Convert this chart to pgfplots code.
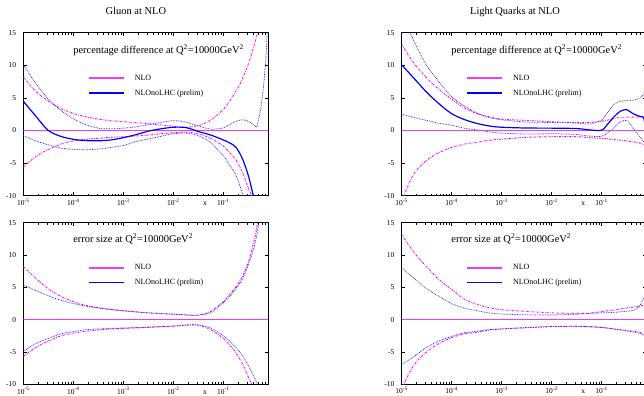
\documentclass[border=0pt]{standalone}
\usepackage{pgfplots}
\pgfplotsset{compat=1.18}
\usepackage{fontspec}
\setmainfont{Liberation Serif}
\definecolor{nlo}{RGB}{255,0,255}
\definecolor{nlothick}{RGB}{240,60,240}
\definecolor{bl}{RGB}{0,0,255}
\definecolor{bldot}{RGB}{40,40,255}
\tikzset{
 mu/.style={color=nlo, line width=0.9bp, dash pattern=on 2bp off 1.2bp on 0.6bp off 1.2bp, smooth},
 bd/.style={color=bldot, line width=0.75bp, dash pattern=on 0.75bp off 0.9bp, smooth},
}
\pgfplotsset{every axis/.append style={
  scale only axis, width=245.2bp,
  clip mode=individual,
  xmode=log, xmin=1e-5, xmax=0.8, ymin=-10, ymax=15,
  xtick={1e-5,1e-4,1e-3,1e-2,1e-1},
  xticklabels={10\textsuperscript{-5},10\textsuperscript{-4},10\textsuperscript{-3},10\textsuperscript{-2},10\textsuperscript{-1}},
  minor xtick={2e-5,3e-5,4e-5,5e-5,6e-5,7e-5,8e-5,9e-5,2e-4,3e-4,4e-4,5e-4,6e-4,7e-4,8e-4,9e-4,2e-3,3e-3,4e-3,5e-3,6e-3,7e-3,8e-3,9e-3,2e-2,3e-2,4e-2,5e-2,6e-2,7e-2,8e-2,9e-2,0.2,0.3,0.4,0.5,0.6,0.7},
  ytick={-10,-5,0,5,10,15},
  yticklabels={-10,-5,0,5,10,15},
  tick align=inside,
  major tick length=3.5bp, minor tick length=2bp,
  axis line style={line width=0.8bp},
  tick style={black,line width=0.6bp},
  tick label style={font=\fontsize{7.5}{8.5}\selectfont, inner sep=0pt},
  xticklabel style={anchor=base, yshift=-9.7bp},
  yticklabel style={anchor=east, xshift=-7bp},
  legend image code/.code={\draw[#1] (0bp,0bp) -- (35bp,0bp);},
  legend cell align=left,
  legend style={draw=none, fill=none, inner sep=0pt, font=\fontsize{8}{9.6}\selectfont,
    at={(0.264,0.675)}, anchor=west, row sep=4bp,
    /tikz/every odd column/.append style={column sep=8bp}},
  every axis title shift=0pt,
  title style={anchor=base, font=\fontsize{10.5}{12}\selectfont, inner sep=0pt, yshift=17.7bp},
 }}
\begin{document}
\begin{tikzpicture}
\useasboundingbox (0,0) rectangle (644bp,396bp);
\clip (0,0) rectangle (644bp,396bp);
% ---------------- Gluon, percentage difference
\begin{axis}[at={(23.3bp,200.3bp)}, anchor=south west, height=163bp,
  title={Gluon at NLO}, title style={at={(0.459,1)}}]
\addplot[mu, forget plot] coordinates {(1e-5,8.2) (1.778e-5,6.0) (3.162e-5,4.5) (5.623e-5,3.4) (1e-4,2.6) (1.778e-4,2.1) (3.162e-4,1.75) (5.623e-4,1.5) (1e-3,1.35) (1.778e-3,1.2) (3.162e-3,1.05) (5.623e-3,0.85) (1e-2,0.65) (1.778e-2,0.5) (3.162e-2,0.75) (5.623e-2,1.6) (0.1,3.2) (0.1334,4.5) (0.1778,6.0) (0.2371,7.8) (0.3162,10.2) (0.4217,13.3) (0.5012,15.5)};
\addplot[mu, forget plot] coordinates {(1e-5,-5.6) (1.778e-5,-4.0) (3.162e-5,-2.9) (5.623e-5,-2.1) (1e-4,-1.6) (1.778e-4,-1.35) (3.162e-4,-1.2) (5.623e-4,-1.05) (1e-3,-0.95) (1.778e-3,-0.85) (3.162e-3,-0.7) (5.623e-3,-0.5) (1e-2,-0.35) (1.778e-2,-0.25) (3.162e-2,-0.5) (5.623e-2,-1.2) (0.1,-2.4) (0.1334,-3.4) (0.1778,-4.5) (0.2371,-6.3) (0.3162,-8.8) (0.3981,-10.5)};
\addplot[bd, forget plot] coordinates {(1e-5,10.1) (1.778e-5,7.2) (3.162e-5,4.8) (5.623e-5,3.1) (1e-4,1.8) (1.778e-4,0.9) (3.162e-4,0.35) (5.623e-4,0.25) (1e-3,0.35) (1.778e-3,0.55) (3.162e-3,0.9) (5.623e-3,1.25) (1e-2,1.5) (1.778e-2,1.3) (3.162e-2,0.7) (5.623e-2,0.2) (0.1,0.4) (0.1334,0.9) (0.1778,1.4) (0.2371,1.65) (0.3162,1.4) (0.4217,0.8) (0.4677,0.6) (0.5623,3.5) (0.6310,6.5) (0.7079,11) (0.7586,15.5)};
\addplot[bd, forget plot] coordinates {(1e-5,-0.8) (1.778e-5,-1.6) (3.162e-5,-2.2) (5.623e-5,-2.7) (1e-4,-2.9) (1.778e-4,-2.95) (3.162e-4,-2.85) (5.623e-4,-2.6) (1e-3,-2.3) (1.778e-3,-1.7) (3.162e-3,-1.3) (5.623e-3,-0.9) (1e-2,-0.5) (1.778e-2,-0.4) (3.162e-2,-0.8) (5.623e-2,-1.9) (0.1,-3.9) (0.1334,-5.3) (0.1778,-6.8) (0.2371,-9.5) (0.2512,-10.5)};
\addplot[color=nlothick, line width=1.6bp] coordinates {(1e-5,0) (0.8,0)};
\addlegendentry{NLO}
\addplot[color=bl, line width=1.2bp, smooth] coordinates {(1e-5,4.5) (1.778e-5,2.2) (3.162e-5,0.0) (5.623e-5,-0.9) (1e-4,-1.35) (1.778e-4,-1.55) (3.162e-4,-1.58) (5.623e-4,-1.45) (1e-3,-1.1) (1.778e-3,-0.65) (3.162e-3,-0.1) (5.623e-3,0.25) (1e-2,0.5) (1.778e-2,0.45) (3.162e-2,-0.15) (5.623e-2,-0.7) (0.1,-1.45) (0.1334,-1.9) (0.1778,-2.55) (0.2371,-4.2) (0.3162,-6.9) (0.3981,-10) (0.4467,-11.5)};
\addlegendentry{NLOnoLHC (prelim)}
\node[anchor=base west, font=\fontsize{10.5}{12}\selectfont, inner sep=0pt] at (axis description cs:0.203,0.875) {percentage difference at Q\textsuperscript{2}=10000GeV\textsuperscript{2}};
\node[font=\fontsize{7.5}{8.5}\selectfont, anchor=base, inner sep=0pt, yshift=-9.7bp] at (axis description cs:0.741,0) {x};
\end{axis}
% ---------------- Gluon, error size
\begin{axis}[at={(23.3bp,11.7bp)}, anchor=south west, height=161.6bp]
\addplot[mu, forget plot] coordinates {(1e-5,8.2) (1.778e-5,6.4) (3.162e-5,4.75) (5.623e-5,3.6) (1e-4,2.8) (1.778e-4,2.2) (3.162e-4,1.85) (5.623e-4,1.6) (1e-3,1.4) (3.162e-3,1.05) (1e-2,0.85) (1.778e-2,0.72) (3.162e-2,0.7) (5.623e-2,1.3) (0.1,2.8) (0.1334,3.9) (0.1778,5.1) (0.2371,6.6) (0.3162,8.9) (0.4217,12.5) (0.4677,14.4) (0.5012,16)};
\addplot[mu, forget plot] coordinates {(1e-5,-5.7) (1.778e-5,-4.3) (3.162e-5,-3.3) (5.623e-5,-2.5) (1e-4,-2.1) (1.778e-4,-1.8) (3.162e-4,-1.6) (5.623e-4,-1.45) (1e-3,-1.35) (3.162e-3,-1.2) (1e-2,-1.0) (1.778e-2,-0.85) (3.162e-2,-0.85) (5.623e-2,-1.55) (0.1,-2.9) (0.1334,-3.9) (0.1778,-5.1) (0.2371,-6.7) (0.3162,-8.9) (0.3715,-10) (0.3981,-10.7)};
\addplot[bd, forget plot] coordinates {(1e-5,5.4) (1.778e-5,4.5) (3.162e-5,3.7) (5.623e-5,3.0) (1e-4,2.5) (1.778e-4,2.1) (3.162e-4,1.8) (5.623e-4,1.55) (1e-3,1.35) (3.162e-3,1.05) (1e-2,0.85) (1.778e-2,0.75) (3.162e-2,0.7) (5.623e-2,1.1) (0.1,2.6) (0.1334,3.6) (0.1778,4.8) (0.2371,6.2) (0.3162,8.5) (0.4217,11.5) (0.5012,14.4) (0.5623,17)};
\addplot[bd, forget plot] coordinates {(1e-5,-4.9) (1.778e-5,-3.7) (3.162e-5,-2.9) (5.623e-5,-2.2) (1e-4,-1.85) (1.778e-4,-1.55) (3.162e-4,-1.45) (5.623e-4,-1.35) (1e-3,-1.3) (3.162e-3,-1.15) (1e-2,-1.0) (1.778e-2,-0.85) (3.162e-2,-0.82) (5.623e-2,-1.3) (0.1,-2.5) (0.1334,-3.3) (0.1778,-4.3) (0.2371,-5.5) (0.3162,-7.1) (0.4217,-9.0) (0.4677,-9.8) (0.5012,-10.5)};
\addplot[color=nlothick, line width=1.6bp] coordinates {(1e-5,0) (0.8,0)};
\addlegendentry{NLO}
\addlegendimage{color=bl, line width=1.1bp}
\addlegendentry{NLOnoLHC (prelim)}
\node[anchor=base west, font=\fontsize{10.5}{12}\selectfont, inner sep=0pt] at (axis description cs:0.203,0.875) {error size at Q\textsuperscript{2}=10000GeV\textsuperscript{2}};
\node[font=\fontsize{7.5}{8.5}\selectfont, anchor=base, inner sep=0pt, yshift=-9.7bp] at (axis description cs:0.741,0) {x};
\end{axis}
% ---------------- Light quarks, percentage difference
\begin{axis}[at={(401.5bp,200.3bp)}, anchor=south west, height=163bp,
  title={Light Quarks at NLO}, title style={at={(0.463,1)}}]
\addplot[mu, forget plot] coordinates {(1e-5,13.2) (1.778e-5,10.3) (3.162e-5,8.1) (5.623e-5,6.3) (1e-4,4.8) (1.778e-4,3.5) (3.162e-4,2.6) (5.623e-4,2.1) (1e-3,1.75) (3.162e-3,1.55) (1e-2,1.35) (3.162e-2,1.2) (5.623e-2,1.25) (0.1,1.4) (0.1334,1.6) (0.1778,1.85) (0.2371,2.0) (0.3162,2.05) (0.8,2.05)};
\addplot[mu, forget plot] coordinates {(1e-5,-10.8) (1.175e-5,-9.6) (1.778e-5,-6.6) (3.162e-5,-4.6) (5.623e-5,-3.4) (1e-4,-2.6) (1.778e-4,-2.1) (3.162e-4,-1.8) (5.623e-4,-1.5) (1e-3,-1.33) (3.162e-3,-1.05) (1e-2,-0.95) (3.162e-2,-0.95) (5.623e-2,-1.1) (0.1,-1.2) (0.1778,-1.4) (0.3162,-1.6) (0.5623,-1.9) (0.7499,-2.3) (0.8,-2.5)};
\addplot[bd, forget plot] coordinates {(1e-5,18) (1.778e-5,13.7) (3.162e-5,10.0) (5.623e-5,7.5) (1e-4,5.2) (1.778e-4,3.8) (3.162e-4,2.7) (5.623e-4,2.0) (1e-3,1.64) (3.162e-3,1.3) (1e-2,1.23) (3.162e-2,1.15) (5.623e-2,1.0) (0.1,1.6) (0.1334,2.8) (0.1778,4.0) (0.2371,4.5) (0.3162,4.55) (0.4217,4.65) (0.5623,4.9) (0.7499,5.7) (0.8,6.0)};
\addplot[bd, forget plot] coordinates {(1e-5,2.5) (1.778e-5,2.0) (3.162e-5,1.55) (5.623e-5,1.1) (1e-4,0.8) (1.778e-4,0.35) (3.162e-4,0.1) (5.623e-4,-0.2) (1e-3,-0.4) (3.162e-3,-0.55) (1e-2,-0.5) (3.162e-2,-0.6) (5.623e-2,-0.85) (0.1,-0.9) (0.1334,-0.3) (0.1778,0.45) (0.2371,1.3) (0.3162,1.55) (0.4217,0.4) (0.5623,-0.85) (0.7499,-2.0) (0.8,-2.2)};
\addplot[color=nlothick, line width=1.6bp] coordinates {(1e-5,0) (0.8,0)};
\addlegendentry{NLO}
\addplot[color=bl, line width=1.2bp, smooth] coordinates {(1e-5,10.1) (1.778e-5,8.0) (3.162e-5,5.9) (5.623e-5,4.1) (1e-4,2.6) (1.778e-4,1.7) (3.162e-4,1.1) (5.623e-4,0.7) (1e-3,0.5) (3.162e-3,0.38) (1e-2,0.36) (3.162e-2,0.3) (5.623e-2,0.1) (0.1,0.05) (0.1334,1.0) (0.1778,2.1) (0.2371,2.95) (0.3162,3.2) (0.4217,2.6) (0.5623,2.2) (0.6918,2.0) (0.7244,1.2) (0.7586,0.0) (0.8,-1.0)};
\addlegendentry{NLOnoLHC (prelim)}
\node[anchor=base west, font=\fontsize{10.5}{12}\selectfont, inner sep=0pt] at (axis description cs:0.203,0.875) {percentage difference at Q\textsuperscript{2}=10000GeV\textsuperscript{2}};
\node[font=\fontsize{7.5}{8.5}\selectfont, anchor=base, inner sep=0pt, yshift=-9.7bp] at (axis description cs:0.741,0) {x};
\end{axis}
% ---------------- Light quarks, error size
\begin{axis}[at={(401.5bp,11.7bp)}, anchor=south west, height=161.6bp]
\addplot[mu, forget plot] coordinates {(1e-5,13.2) (1.778e-5,10.4) (3.162e-5,8.2) (5.623e-5,6.2) (1e-4,4.7) (1.778e-4,3.2) (3.162e-4,2.4) (5.623e-4,1.85) (1e-3,1.54) (3.162e-3,1.28) (1e-2,1.05) (3.162e-2,0.97) (5.623e-2,1.0) (0.1,1.25) (0.1778,1.5) (0.3162,1.8) (0.5623,2.05) (0.7499,2.3) (0.8,2.35)};
\addplot[mu, forget plot] coordinates {(1e-5,-11) (1.175e-5,-9.6) (1.778e-5,-7.0) (3.162e-5,-5.0) (5.623e-5,-3.7) (1e-4,-2.8) (1.778e-4,-2.2) (3.162e-4,-1.95) (5.623e-4,-1.6) (1e-3,-1.44) (3.162e-3,-1.22) (1e-2,-1.05) (3.162e-2,-1.03) (5.623e-2,-1.1) (0.1,-1.2) (0.1778,-1.44) (0.3162,-1.65) (0.5623,-1.9) (0.7499,-2.3) (0.8,-2.4)};
\addplot[bd, forget plot] coordinates {(1e-5,8.05) (1.778e-5,6.4) (3.162e-5,4.8) (5.623e-5,3.6) (1e-4,2.5) (1.778e-4,1.8) (3.162e-4,1.4) (5.623e-4,1.05) (1e-3,0.87) (3.162e-3,0.75) (1e-2,0.72) (3.162e-2,0.85) (5.623e-2,0.97) (0.1,1.05) (0.1778,1.13) (0.3162,1.3) (0.4217,1.4) (0.5623,2.0) (0.7079,3.5) (0.7586,4.7) (0.8,5.5)};
\addplot[bd, forget plot] coordinates {(1e-5,-7.0) (1.778e-5,-5.7) (3.162e-5,-4.3) (5.623e-5,-3.3) (1e-4,-2.6) (1.778e-4,-2.05) (3.162e-4,-1.8) (5.623e-4,-1.55) (1e-3,-1.44) (3.162e-3,-1.25) (1e-2,-1.08) (3.162e-2,-1.03) (5.623e-2,-1.08) (0.1,-1.2) (0.1778,-1.44) (0.3162,-1.75) (0.4217,-1.9) (0.5623,-2.1) (0.7079,-2.4) (0.7586,-2.8) (0.8,-3.1)};
\addplot[color=nlothick, line width=1.6bp] coordinates {(1e-5,0) (0.8,0)};
\addlegendentry{NLO}
\addlegendimage{color=bl, line width=1.1bp}
\addlegendentry{NLOnoLHC (prelim)}
\node[anchor=base west, font=\fontsize{10.5}{12}\selectfont, inner sep=0pt] at (axis description cs:0.203,0.875) {error size at Q\textsuperscript{2}=10000GeV\textsuperscript{2}};
\node[font=\fontsize{7.5}{8.5}\selectfont, anchor=base, inner sep=0pt, yshift=-9.7bp] at (axis description cs:0.741,0) {x};
\end{axis}
\end{tikzpicture}
\end{document}
